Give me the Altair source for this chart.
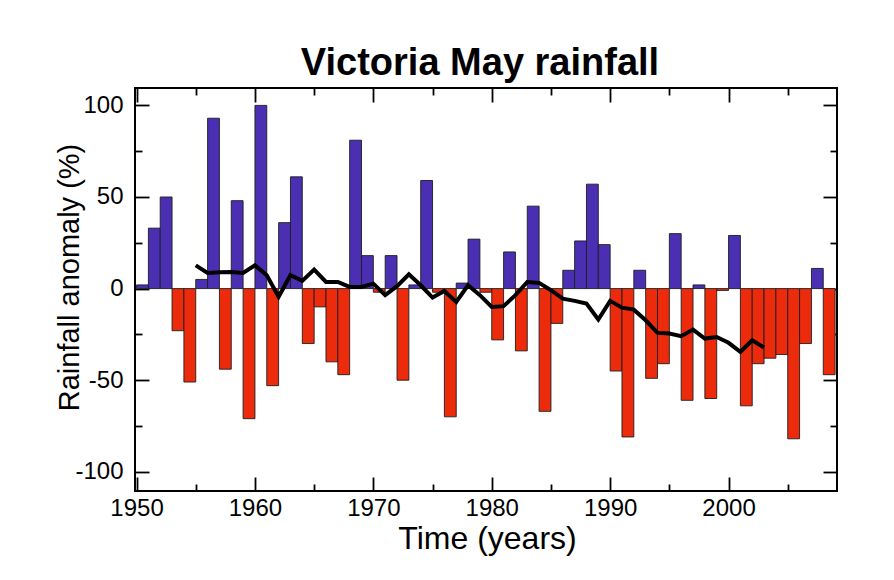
import altair as alt
import pandas as pd

# ---- data ----
years = list(range(1950, 2009))
anomaly = [2, 33, 50, -23, -51, 5, 93, -44, 48, -71,          # 1950-1959
           100, -53, 36, 61, -30, -10, -40, -47, 81, 18,      # 1960-1969
           -2, 18, -50, 2, 59, -2, -70, 3, 27, -2,            # 1970-1979
           -28, 20, -34, 45, -67, -19, 10, 26, 57, 24,        # 1980-1989
           -45, -81, 10, -49, -41, 30, -61, 2, -60, -1,       # 1990-1999
           29, -64, -41, -38, -36, -82, -30, 11, -47]         # 2000-2008

smooth_years = list(range(1955, 2004))
smooth = [12.7, 8.5, 8.9, 9.1, 8.5, 12.7, 7.3, -4.5, 7.3, 4.2,        # 1955-1964
          10.4, 3.6, 3.6, 0.9, 0.9, 2.7, -3.6, 1.3, 7.8, 1.8,         # 1965-1974
          -4.9, -1.3, -7.3, 1.8, -3.6, -10.0, -9.6, -3.6, 3.6, 3.1,   # 1975-1984
          -0.9, -5.5, -6.7, -8.2, -16.9, -6.7, -10.4, -11.5, -17.3, -24.2,  # 1985-1994
          -24.5, -26.0, -22.4, -27.3, -26.4, -29.6, -34.5, -28.2, -32.2]    # 1995-2003

x_major = [1950, 1960, 1970, 1980, 1990, 2000]
x_minor = [1955, 1965, 1975, 1985, 1995, 2005]
y_major = [-100, -50, 0, 50, 100]
y_minor = [-75, -25, 25, 75]

BLUE = "#4a2fb3"
RED = "#ec2a0c"
FONT = "Liberation Sans"

bars_df = pd.DataFrame({"year": years, "anomaly": anomaly})
line_df = pd.DataFrame({"year": smooth_years, "mean": smooth})

xscale = alt.Scale(domain=[1949.87, 2009.16], nice=False, zero=False)
yscale = alt.Scale(domain=[-110.5, 109.5], nice=False, zero=False)

HYPHEN_LABEL = "datum.value < 0 ? '-' + abs(datum.value) : '' + datum.value"


def axis(orient, values, size, labels=False, **kw):
    return alt.Axis(orient=orient, values=values, tickSize=size, offset=-size,
                    labels=labels, domain=False, grid=False, ticks=True,
                    tickColor="black", tickWidth=1.8, **kw)


x_bottom_major = axis("bottom", x_major, 14, labels=True,
                      labelExpr=HYPHEN_LABEL,
                      labelFont=FONT, labelFontSize=24, labelColor="black",
                      labelPadding=5, labelFlush=False,
                      title="Time (years)", titleFont=FONT, titleFontSize=32,
                      titleFontWeight="normal", titleColor="black",
                      titleAlign="center", titleBaseline="alphabetic",
                      titleX=352, titleY=71)
y_left_major = axis("left", y_major, 14, labels=True,
                    labelExpr=HYPHEN_LABEL,
                    labelFont=FONT, labelFontSize=24, labelColor="black",
                    labelPadding=12, labelFlush=False,
                    title="Rainfall anomaly (%)", titleFont=FONT, titleFontSize=29,
                    titleFontWeight="normal", titleColor="black",
                    titleAlign="center", titleBaseline="alphabetic",
                    titleAngle=270, titleX=-71, titleY=189)

bars = alt.Chart(bars_df).transform_calculate(
    year_end="datum.year + 1"
).mark_bar(stroke="#1e1e1e", strokeWidth=0.9).encode(
    x=alt.X("year:Q", scale=xscale, axis=x_bottom_major),
    x2="year_end:Q",
    y=alt.Y("anomaly:Q", scale=yscale, axis=y_left_major),
    y2=alt.datum(0),
    color=alt.condition("datum.anomaly >= 0", alt.value(BLUE), alt.value(RED)),
)

line = alt.Chart(line_df).mark_line(color="black", strokeWidth=4).encode(
    x=alt.X("year:Q", scale=xscale, axis=axis("bottom", x_minor, 7, title="")),
    y=alt.Y("mean:Q", scale=yscale, axis=axis("left", y_minor, 7, title="")),
)

mirror_major = alt.Chart(line_df).mark_line(opacity=0).encode(
    x=alt.X("year:Q", scale=xscale, axis=axis("top", x_major, 14, title="")),
    y=alt.Y("mean:Q", scale=yscale, axis=axis("right", y_major, 14, title="")),
)

mirror_minor = alt.Chart(line_df).mark_line(opacity=0).encode(
    x=alt.X("year:Q", scale=xscale, axis=axis("top", x_minor, 7, title="")),
    y=alt.Y("mean:Q", scale=yscale, axis=axis("right", y_minor, 7, title="")),
)

chart = alt.layer(bars, line, mirror_major, mirror_minor).resolve_axis(
    x="independent", y="independent"
).properties(
    width=702,
    height=403,
    autosize=alt.AutoSizeParams(type="none"),
    padding={"left": 135, "top": 88, "right": 57, "bottom": 89},
    background="white",
    title=alt.TitleParams("Victoria May rainfall", font=FONT, fontSize=38,
                          fontWeight="bold", color="black", anchor="middle",
                          baseline="alphabetic", offset=15, dx=-6, dy=41),
).configure_view(stroke="black", strokeWidth=2)

chart.save("out.html", embed_options={"renderer": "svg", "actions": False})
